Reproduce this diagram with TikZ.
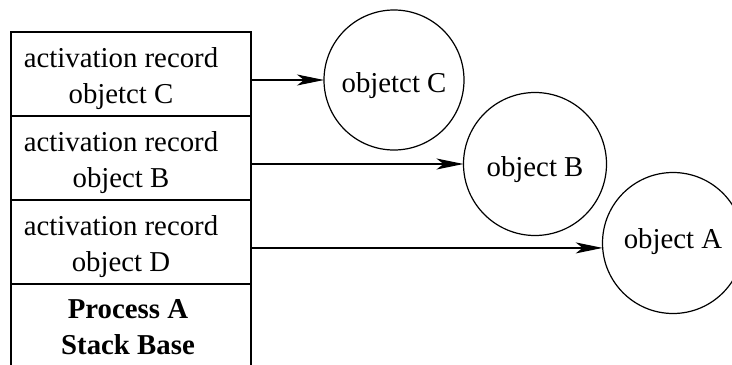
\documentclass[tikz,border=0pt]{standalone}
\usepackage{fontspec}
\setmainfont{Liberation Serif}
\usetikzlibrary{arrows.meta}
\begin{document}
\begin{tikzpicture}[x=0.5pt,y=-0.5pt,
  rowbox/.style={draw,line width=0.75pt,minimum width=120pt,minimum height=42pt,inner sep=0pt,outer sep=0pt},
  rowtext/.style={align=center,font=\fontsize{14.4pt}{18pt}\selectfont,inner sep=0pt},
  obj/.style={draw,circle,line width=0.6pt,inner sep=0pt,outer sep=0pt,font=\fontsize{14.4pt}{18pt}\selectfont,text height=14pt,text depth=2pt},
  arr/.style={line width=0.6pt,-{Stealth[length=13.5pt,width=5.5pt,inset=3.5pt]}}]
\clip (0,0) rectangle (732,364);
\node[rowbox] (r1) at (131,74) {};
\node[rowbox] (r2) at (131,158) {};
\node[rowbox] (r3) at (131,242) {};
\node[rowbox] (r4) at (131,326) {};
\node[rowtext] (t1) at (121,78.3) {activation record\\objetct C};
\node[rowtext] (t2) at (121,162.8) {activation record\\object B};
\node[rowtext] (t3) at (121,246.8) {activation record\\object D};
\node[rowtext,font=\fontsize{14.4pt}{18pt}\selectfont\bfseries] (t4) at (128,326.7) {Process A\\Stack Base};
\node[obj,minimum size=70pt] (cC) at (394,80) {objetct C};
\node[obj,minimum size=71.5pt] (cB) at (535,164) {object B};
\node[obj,minimum size=70.5pt,text height=7pt] (cA) at (673,243) {object A};
\draw[arr] (r1.east |- cC.west) -- (cC.west);
\draw[arr] (r2.east |- cB.west) -- (cB.west);
\draw[arr] (r3.east |- cA.184) -- (cA.184);
\end{tikzpicture}
\end{document}
